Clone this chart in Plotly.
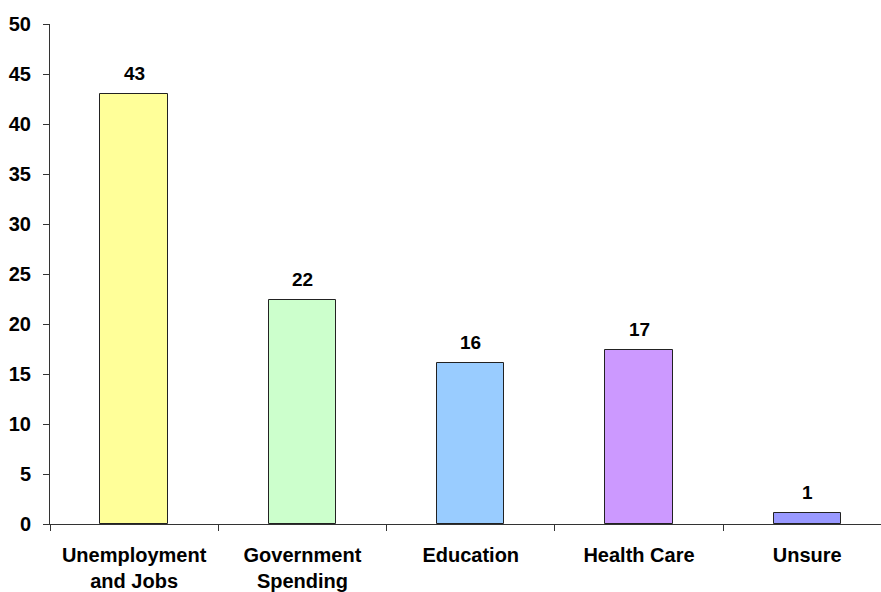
import plotly.graph_objects as go

# Survey responses: most important issue (percent)
categories = ["Unemployment<br>and Jobs", "Government<br>Spending", "Education", "Health Care", "Unsure"]
values = [43.0, 22.4, 16.1, 17.4, 1.1]
colors = ["#FFFF99", "#CCFFCC", "#99CCFF", "#CC99FF", "#9999FF"]
y_ticks = [0, 5, 10, 15, 20, 25, 30, 35, 40, 45, 50]

FONT = "Arial, Liberation Sans, sans-serif"

fig = go.Figure()
fig.add_trace(go.Bar(
    x=categories,
    y=values,
    width=0.40,
    marker=dict(color=colors, line=dict(color="#222222", width=1)),
    hoverinfo="skip",
))

# Value labels above each bar
for cat, val in zip(categories, values):
    fig.add_annotation(
        x=cat, y=val, text=f"{val:.0f}",
        showarrow=False, yanchor="bottom", yshift=8,
        font=dict(family=FONT, size=19, color="black", weight="bold"),
    )

fig.update_layout(
    width=881, height=592,
    margin=dict(l=50, r=0, t=24, b=68),
    paper_bgcolor="white", plot_bgcolor="white",
    showlegend=False,
    bargap=0,
)
fig.update_xaxes(
    range=[-0.5, 4.438],
    automargin=False,
    showline=True, linecolor="#333333", linewidth=1,
    ticks="outside", ticklen=6, tickcolor="#333333",
    tickson="boundaries",
    showgrid=False, zeroline=False,
    ticklabelstandoff=13,
    tickfont=dict(family=FONT, size=20, color="black", weight="bold"),
)
fig.update_yaxes(
    range=[0, 50], tickvals=y_ticks,
    automargin=False,
    showline=True, linecolor="#333333", linewidth=1,
    ticks="outside", ticklen=6, tickcolor="#333333",
    showgrid=False, zeroline=False,
    ticklabelstandoff=8,
    tickfont=dict(family=FONT, size=20, color="black", weight="bold"),
)

fig.write_html("out.html")
